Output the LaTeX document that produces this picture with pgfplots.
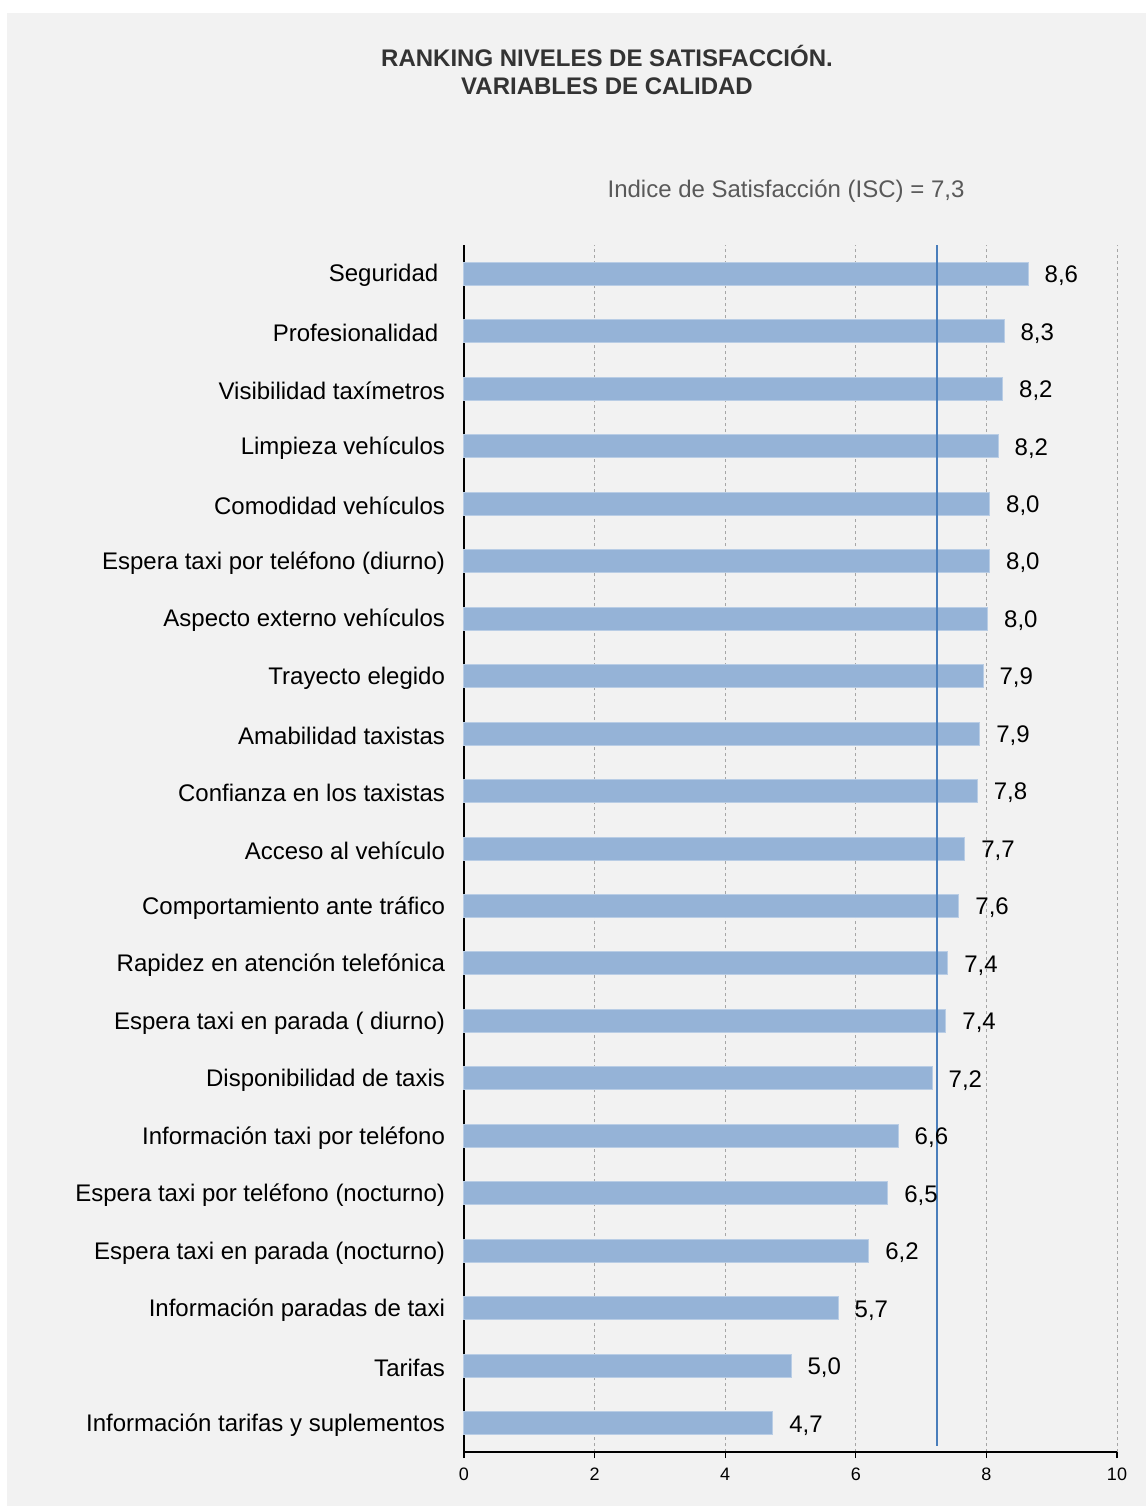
\documentclass[border=0pt]{standalone}
\usepackage{pgfplots}
\pgfplotsset{compat=1.18}
\usepackage{pgfplotstable}
\usepackage{fontspec}
\setmainfont{Liberation Sans}
\definecolor{bg}{HTML}{F2F2F2}
\definecolor{barfill}{HTML}{95B3D7}
\definecolor{baredge}{HTML}{B9CDE5}
\definecolor{iscline}{HTML}{4A7EBB}
\definecolor{titlecol}{HTML}{333333}
\definecolor{subcol}{HTML}{595959}
\definecolor{gridcol}{HTML}{A6A6A6}

\pgfplotstableread{
val pos lab
4.73 0 4.7
5.01 1 5.0
5.73 2 5.7
6.20 3 6.2
6.49 4 6.5
6.65 5 6.6
7.17 6 7.2
7.38 7 7.4
7.41 8 7.4
7.58 9 7.6
7.67 10 7.7
7.86 11 7.8
7.90 12 7.9
7.95 13 7.9
8.02 14 8.0
8.05 15 8.0
8.05 16 8.0
8.18 17 8.2
8.25 18 8.2
8.27 19 8.3
8.64 20 8.6
}\datatable

\begin{document}
\begin{tikzpicture}
\useasboundingbox (0pt,0pt) rectangle (573pt,-753pt);
\fill[white] (0pt,0pt) rectangle (573pt,-753pt);
\fill[bg] (3.5pt,-6.5pt) rectangle (573pt,-753pt);
\node[font=\fontsize{12}{14}\selectfont\bfseries, text=titlecol, align=center] at (303.5pt,-35pt) {RANKING NIVELES DE SATISFACCIÓN.\\VARIABLES DE CALIDAD};
\node[font=\fontsize{12}{14}\selectfont, text=subcol] at (393pt,-95.5pt) {Indice de Satisfacción (ISC) = 7,3};
\begin{axis}[
  at={(232pt,-726pt)}, anchor=south west,
  scale only axis, width=326.5pt, height=603.5pt,
  xmin=0, xmax=10, ymin=-0.5, ymax=20.5,
  axis x line*=bottom, axis y line*=left,
  axis line style={black, line width=0.6pt, -},
  xtick={0,2,...,10},
  xmajorgrids,
  grid style={gridcol, dash pattern=on 1.5pt off 1.5pt, line width=0.5pt},
  tick align=outside,
  major tick length=3pt, minor tick length=3pt,
  xtick style={black, line width=0.6pt},
  ytick={0,...,20},
  ytick style={draw=none},
  minor ytick={-0.5,0.5,...,20.5},
  minor tick style={black, line width=0.6pt},
  yticklabels={{Información tarifas y suplementos},{Tarifas},{Información paradas de taxi},{Espera taxi en parada (nocturno)},{Espera taxi por teléfono (nocturno)},{Información taxi por teléfono},{Disponibilidad de taxis},{Espera taxi en parada ( diurno)},{Rapidez en atención telefónica},{Comportamiento ante tráfico},{Acceso al vehículo},{Confianza en los taxistas},{Amabilidad taxistas},{Trayecto elegido},{Aspecto externo vehículos},{Espera taxi por teléfono (diurno)},{Comodidad vehículos},{Limpieza vehículos},{Visibilidad taxímetros},{Profesionalidad\ \null},{Seguridad\ \null}},
  yticklabel style={font=\fontsize{12}{14}\selectfont, xshift=-3pt, yshift=-1pt},
  xticklabel style={font=\fontsize{9}{10}\selectfont, yshift=-1.5pt},
  /pgf/number format/assume math mode=true,
  clip=false,
]
\addplot[xbar, bar width=11.5pt, fill=barfill, draw=baredge, line width=0.5pt,
  point meta=explicit,
  nodes near coords={\pgfmathprintnumber[fixed,fixed zerofill,precision=1,use comma,assume math mode=true]{\pgfplotspointmeta}},
  every node near coord/.append style={anchor=west, inner sep=0pt, xshift=8pt, yshift=-1pt, font=\fontsize{12}{14}\selectfont, text=black}]
  table[x=val, y=pos, meta=lab] {\datatable};
\addplot[iscline, line width=1pt] coordinates {(7.25,20.5) (7.25,-0.4)};
\end{axis}
\end{tikzpicture}
\end{document}
